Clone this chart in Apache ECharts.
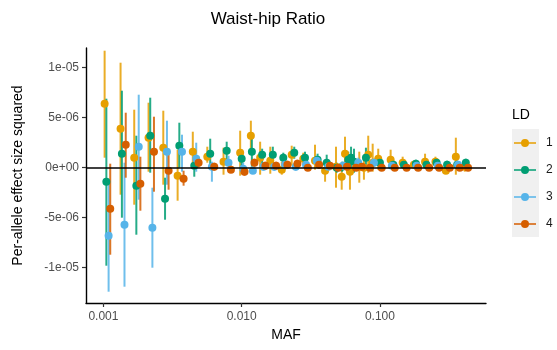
<!DOCTYPE html>
<html>
<head>
<meta charset="utf-8">
<script src="https://cdn.jsdelivr.net/npm/echarts@6/dist/echarts.min.js"></script>
<style>html,body{margin:0;padding:0;background:#fff}#c{width:557px;height:350px}</style>
</head>
<body>
<div id="c"></div>
<script>
// ---- data ----
const ldNames = ['1', '2', '3', '4'];
const ldColors = ['#E69F00', '#009E73', '#56B4E9', '#D55E00'];
const xTickValues = [0.001, 0.01, 0.1];
const xTickLabels = ['0.001', '0.010', '0.100'];
const yTickValues = [-1e-5, -5e-6, 0, 5e-6, 1e-5];
const yTickLabels = ['-1e-05', '-5e-06', '0e+00', '5e-06', '1e-05'];

const ld1Maf = [0.00102,0.00133,0.00167,0.00212,0.00271,0.00344,0.00443,0.00564,0.00739,0.00975,0.01165,0.0136,0.0161,0.0195,0.0230,0.0279,0.0339,0.0401,0.0481,0.0529,0.0559,0.0607,0.0709,0.0766,0.0823,0.0886,0.0972,0.1195,0.146,0.176,0.212,0.252,0.300,0.354,0.411];
const ld1Eff = [6.4e-6,3.9e-6,1.0e-6,3.0e-6,2.0e-6,-0.8e-6,1.6e-6,1.1e-6,0.6e-6,1.5e-6,3.2e-6,1.0e-6,0.7e-6,-0.2e-6,1.3e-6,0.9e-6,0.7e-6,-0.3e-6,0.1e-6,-0.9e-6,1.4e-6,-0.4e-6,0.1e-6,0.0,1.3e-6,0.5e-6,0.9e-6,0.8e-6,0.5e-6,0.3e-6,0.6e-6,0.6e-6,-0.3e-6,1.1e-6,0.1e-6];
const ld1Lo = [1.0e-6,-2.7e-6,-3.7e-6,-0.4e-6,-1.7e-6,-3.3e-6,0.3e-6,0.5e-6,-0.7e-6,-0.8e-6,1.6e-6,-0.7e-6,-0.6e-6,-0.7e-6,0.2e-6,0.3e-6,-0.2e-6,-1.4e-6,-2.0e-6,-2.2e-6,0.1e-6,-2.2e-6,-1.5e-6,-1.2e-6,-0.5e-6,-0.4e-6,-0.2e-6,0.0,0.0,-0.1e-6,0.0,0.1e-6,-0.5e-6,-0.7e-6,-0.4e-6];
const ld1Hi = [11.7e-6,10.5e-6,5.8e-6,6.5e-6,5.7e-6,1.8e-6,3.6e-6,2.1e-6,2.0e-6,3.7e-6,4.7e-6,2.6e-6,2.1e-6,0.6e-6,2.2e-6,1.5e-6,2.3e-6,0.5e-6,2.1e-6,0.5e-6,3.1e-6,1.0e-6,1.6e-6,1.3e-6,3.2e-6,2.4e-6,1.9e-6,1.8e-6,1.1e-6,0.7e-6,1.4e-6,1.1e-6,0.1e-6,3.0e-6,0.6e-6];

const ld2Maf = [0.00105,0.00136,0.00173,0.00218,0.00279,0.00354,0.00454,0.00592,0.00779,0.0100,0.01185,0.01406,0.0168,0.0200,0.0240,0.0287,0.0354,0.0412,0.0487,0.0532,0.0590,0.0618,0.0649,0.0792,0.100,0.125,0.149,0.182,0.217,0.257,0.306,0.362,0.418];
const ld2Eff = [-1.4e-6,1.4e-6,-1.8e-6,3.2e-6,-3.1e-6,2.2e-6,0.2e-6,1.4e-6,1.7e-6,0.9e-6,1.6e-6,1.3e-6,1.3e-6,1.0e-6,1.5e-6,1.0e-6,0.8e-6,0.5e-6,0.0,0.1e-6,0.8e-6,1.0e-6,0.6e-6,1.0e-6,0.5e-6,0.3e-6,0.3e-6,0.4e-6,0.3e-6,0.5e-6,0.3e-6,0.3e-6,0.5e-6];
const ld2Lo = [-9.8e-6,-5.0e-6,-6.7e-6,-0.5e-6,-5.2e-6,0.0,-0.9e-6,-0.1e-6,0.8e-6,0.0,0.1e-6,0.2e-6,0.3e-6,0.3e-6,0.9e-6,0.3e-6,0.2e-6,0.1e-6,-0.5e-6,-0.4e-6,0.1e-6,-0.2e-6,-0.5e-6,0.1e-6,0.0,-0.1e-6,-0.1e-6,0.0,-0.1e-6,0.1e-6,-0.1e-6,-0.1e-6,0.1e-6];
const ld2Hi = [6.9e-6,7.7e-6,3.2e-6,7.0e-6,-1.0e-6,4.5e-6,1.5e-6,2.9e-6,2.6e-6,1.8e-6,3.0e-6,1.9e-6,2.1e-6,1.5e-6,2.1e-6,1.6e-6,1.4e-6,1.3e-6,0.5e-6,0.6e-6,1.6e-6,2.1e-6,1.9e-6,2.0e-6,1.0e-6,0.7e-6,0.7e-6,0.8e-6,0.7e-6,0.9e-6,0.7e-6,0.7e-6,0.9e-6];

const ld3Maf = [0.00109,0.00142,0.00180,0.00226,0.00288,0.00370,0.00469,0.00609,0.00803,0.01025,0.01205,0.01437,0.0172,0.0206,0.0246,0.0292,0.0349,0.0423,0.0541,0.0697,0.0905,0.122,0.184,0.262,0.367];
const ld3Eff = [-6.8e-6,-5.7e-6,2.1e-6,-6.0e-6,1.6e-6,1.6e-6,0.9e-6,0.1e-6,0.5e-6,-0.1e-6,-0.3e-6,0.1e-6,0.1e-6,0.3e-6,0.1e-6,0.3e-6,0.7e-6,0.1e-6,0.2e-6,0.5e-6,0.5e-6,0.2e-6,0.2e-6,0.2e-6,0.3e-6];
const ld3Lo = [-12.4e-6,-11.9e-6,-3.2e-6,-10.0e-6,-1.7e-6,-0.4e-6,-0.4e-6,-1.4e-6,-0.3e-6,-0.5e-6,-0.6e-6,-0.3e-6,-0.3e-6,-0.2e-6,-0.3e-6,-0.1e-6,0.2e-6,-0.3e-6,-0.2e-6,0.0,0.1e-6,-0.1e-6,-0.1e-6,-0.1e-6,0.0];
const ld3Hi = [-1.2e-6,0.5e-6,7.3e-6,-2.0e-6,4.7e-6,3.3e-6,2.5e-6,0.6e-6,1.2e-6,0.5e-6,0.1e-6,0.5e-6,0.5e-6,0.8e-6,0.5e-6,0.7e-6,1.2e-6,0.5e-6,0.6e-6,1.0e-6,0.9e-6,0.5e-6,0.5e-6,0.5e-6,0.6e-6];

const ld4Maf = [0.00112,0.00145,0.00185,0.00232,0.00296,0.00380,0.00488,0.00633,0.00836,0.01048,0.01237,0.01485,0.01775,0.0214,0.0253,0.0301,0.0363,0.0435,0.0500,0.0578,0.0671,0.0741,0.0847,0.103,0.128,0.156,0.189,0.227,0.268,0.320,0.378,0.434];
const ld4Eff = [-4.1e-6,2.3e-6,-1.6e-6,1.6e-6,-0.3e-6,-1.1e-6,0.5e-6,0.1e-6,-0.2e-6,-0.4e-6,0.5e-6,0.2e-6,0.2e-6,0.3e-6,0.4e-6,0.0,0.3e-6,0.2e-6,0.0,0.1e-6,0.0,0.1e-6,0.0,0.0,0.0,0.0,0.0,0.0,0.0,0.0,0.0,0.0];
const ld4Lo = [-8.7e-6,-1.0e-6,-4.3e-6,-2.4e-6,-2.2e-6,-1.8e-6,0.0,-0.3e-6,-0.5e-6,-0.8e-6,0.1e-6,-0.2e-6,-0.2e-6,-0.1e-6,0.0,-0.3e-6,-0.1e-6,-0.2e-6,-0.3e-6,-0.2e-6,-0.3e-6,-0.2e-6,-0.3e-6,-0.2e-6,-0.2e-6,-0.2e-6,-0.2e-6,-0.2e-6,-0.2e-6,-0.2e-6,-0.2e-6,-0.2e-6];
const ld4Hi = [0.4e-6,5.5e-6,1.1e-6,5.1e-6,1.8e-6,-0.3e-6,1.0e-6,0.5e-6,0.2e-6,0.0,0.9e-6,0.6e-6,0.6e-6,0.7e-6,0.8e-6,0.3e-6,0.7e-6,0.6e-6,0.3e-6,0.4e-6,0.3e-6,0.4e-6,0.3e-6,0.2e-6,0.2e-6,0.2e-6,0.2e-6,0.2e-6,0.2e-6,0.2e-6,0.2e-6,0.2e-6];

const groups = [
  [ld1Maf, ld1Eff, ld1Lo, ld1Hi],
  [ld2Maf, ld2Eff, ld2Lo, ld2Hi],
  [ld3Maf, ld3Eff, ld3Lo, ld3Hi],
  [ld4Maf, ld4Eff, ld4Lo, ld4Hi]
];

// ---- chart ----
const chart = echarts.init(document.getElementById('c'), null, {renderer: 'canvas'});
const FONT = 'Liberation Sans, Arial, Helvetica, sans-serif';
const legendIcon = 'path://M0,3.3 L7.2,3.3 L7.2,4.7 L0,4.7 Z M14.8,3.3 L22,3.3 L22,4.7 L14.8,4.7 Z M7,4 A4,4 0 1,1 15,4 A4,4 0 1,1 7,4 Z';

const series = [];
groups.forEach((g, i) => {
  const rows = g[0].map((m, k) => [m, g[1][k], g[2][k], g[3][k]]);
  series.push({
    type: 'custom',
    name: 'bar' + ldNames[i],
    data: rows,
    clip: true,
    z: 2,
    encode: {x: 0, y: [1, 2, 3]},
    renderItem: function (params, api) {
      const p1 = api.coord([api.value(0), api.value(2)]);
      const p2 = api.coord([api.value(0), api.value(3)]);
      return {
        type: 'line',
        shape: {x1: p1[0], y1: p1[1], x2: p2[0], y2: p2[1]},
        style: {stroke: ldColors[i], lineWidth: 2, opacity: 0.85}
      };
    },
    silent: true
  });
});
groups.forEach((g, i) => {
  series.push({
    type: 'scatter',
    name: ldNames[i],
    data: g[0].map((m, k) => [m, g[1][k]]),
    symbol: 'circle',
    symbolSize: 8,
    itemStyle: {color: ldColors[i], opacity: 1},
    z: 3,
    clip: true,
    silent: true,
    markLine: i === 3 ? {
      silent: true,
      symbol: 'none',
      label: {show: false},
      lineStyle: {color: '#000', width: 1.7, type: 'solid'},
      data: [{yAxis: 0}],
      z: 5
    } : undefined
  });
});

function fmtX(v) {
  for (let k = 0; k < xTickValues.length; k++) {
    if (Math.abs(Math.log10(v) - Math.log10(xTickValues[k])) < 1e-6) return xTickLabels[k];
  }
  return '';
}
function fmtY(v) {
  for (let k = 0; k < yTickValues.length; k++) {
    if (Math.abs(v - yTickValues[k]) < 1e-9) return yTickLabels[k];
  }
  return '';
}

chart.setOption({
  animation: false,
  backgroundColor: '#ffffff',
  title: [
    {text: 'Waist-hip Ratio', left: 268, top: 11, textAlign: 'center', padding: 0,
     textStyle: {fontFamily: FONT, fontSize: 17, fontWeight: 'normal', color: '#000'}},
    {text: 'LD', left: 512, top: 108, padding: 0,
     textStyle: {fontFamily: FONT, fontSize: 14, fontWeight: 'normal', color: '#000'}}
  ],
  graphic: [
    {type: 'rect', shape: {x: 512, y: 129, width: 27, height: 108}, style: {fill: '#F0F0F0'}, z: 0, silent: true}
  ],
  legend: {
    orient: 'vertical',
    left: 514,
    top: 137,
    padding: 0,
    itemWidth: 22,
    itemHeight: 8,
    itemGap: 15,
    icon: legendIcon,
    data: ldNames,
    textStyle: {fontFamily: FONT, fontSize: 12, color: '#1a1a1a', padding: [0, 0, 0, 5]},
    selectedMode: false
  },
  grid: {left: 86, right: 71, top: 48, bottom: 47, containLabel: false},
  xAxis: {
    type: 'log',
    logBase: 10,
    min: 0.000748,
    max: 0.585,
    name: 'MAF',
    nameLocation: 'middle',
    nameGap: 24,
    nameTextStyle: {fontFamily: FONT, fontSize: 14, color: '#000'},
    axisLine: {show: true, onZero: false, lineStyle: {color: '#000', width: 1.4}},
    axisTick: {show: true, length: 4, lineStyle: {color: '#333', width: 1.2}, customValues: xTickValues},
    axisLabel: {show: true, margin: 8, fontFamily: FONT, fontSize: 12, color: '#4d4d4d',
                customValues: xTickValues, formatter: fmtX},
    splitLine: {show: false},
    minorTick: {show: false}
  },
  yAxis: {
    type: 'value',
    min: -1.353e-5,
    max: 1.197e-5,
    name: 'Per-allele effect size squared',
    nameLocation: 'middle',
    nameGap: 61,
    nameRotate: 90,
    nameTextStyle: {fontFamily: FONT, fontSize: 14, color: '#000'},
    axisLine: {show: true, onZero: false, lineStyle: {color: '#000', width: 1.4}},
    axisTick: {show: true, length: 4, lineStyle: {color: '#333', width: 1.2}, customValues: yTickValues},
    axisLabel: {show: true, margin: 7, fontFamily: FONT, fontSize: 12, color: '#4d4d4d',
                customValues: yTickValues, formatter: fmtY},
    splitLine: {show: false}
  },
  series: series
});
</script>
</body>
</html>
